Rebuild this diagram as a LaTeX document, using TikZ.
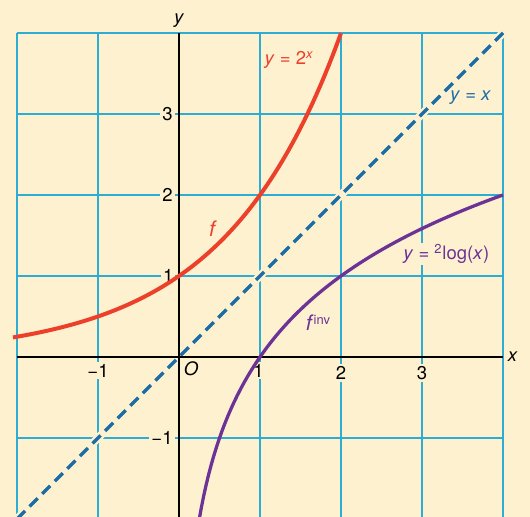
\documentclass[tikz,border=0pt]{standalone}
\usepackage{fontspec}
\setmainfont{TeX Gyre Heros}
\usepackage{tikz}
\usetikzlibrary{positioning}
\definecolor{paper}{RGB}{253,241,208}
\definecolor{gridblue}{RGB}{45,172,212}
\definecolor{expred}{RGB}{237,64,43}
\definecolor{logpurple}{RGB}{108,50,150}
\definecolor{diagblue}{RGB}{28,108,165}

\begin{document}
\begin{tikzpicture}[x=2cm, y=2cm, font=\fontsize{13}{15}\selectfont,
    ticklabel/.style={fill=paper, inner sep=1.5pt},
    curvelabel/.style={inner sep=1pt}]
    % paper
    \fill[paper] (-2.21,-1.975) rectangle (4.333,4.407);
    \useasboundingbox (-2.21,-1.975) rectangle (4.333,4.407);
    % grid
    \draw[gridblue, line width=1.3pt, step=2cm] (-2,-2) grid (4,4);

    % y = x
    \draw[paper, line width=5.5pt] (-2,-2) -- (4,4);
    \draw[diagblue, line width=2.4pt, dash pattern=on 8pt off 4.5pt] (-2,-2) -- (4,4);

    % axes
    \draw[line width=2pt] (-2,0) -- (4,0);
    \draw[line width=2pt] (0,-2) -- (0,4);
    \node[anchor=west, inner sep=1pt] (xlabel) at (4.04,0) {\textit{x}};
    \node[anchor=south, inner sep=1pt] (ylabel) at (0,4.04) {\textit{y}};
    \node[inner sep=1pt] (origin) at (0.15,-0.15) {\textit{O}};

    % tick labels
    \node[ticklabel] (xm1) at (-1,-0.17) {−1};
    \node[ticklabel] (x1) at (0.98,-0.17) {1};
    \node[ticklabel] (x2) at (2,-0.2) {2};
    \node[ticklabel] (x3) at (3,-0.2) {3};
    \node[ticklabel, anchor=east] (y1) at (-0.04,1) {1};
    \node[ticklabel, anchor=east] (y2) at (-0.05,2) {2};
    \node[ticklabel, anchor=east] (y3) at (-0.05,3) {3};
    \node[ticklabel, anchor=east] (ym1) at (-0.05,-1) {−1};

    % f and its inverse
    \draw[expred, line width=2.8pt, domain=-2.05:2, samples=80] plot (\x, {2^\x});
    \draw[logpurple, line width=2.3pt, domain=0.24:4, samples=120] plot (\x, {ln(\x)/ln(2)});

    % labels
    \node[curvelabel, text=expred] (explabel) at (1.36,3.67) {\textit{y} = 2\textsuperscript{\textit{x}}};
    \node[curvelabel, text=expred, font=\fontsize{15}{17}\selectfont] (fname) at (0.42,1.58) {\textit{f}};
    \node[curvelabel, text=diagblue] (diaglabel) at (3.6,3.2) {\textit{y} = \textit{x}};
    \node[curvelabel, fill=paper, text=logpurple] (loglabel) at (3.3,1.27) {\textit{y} = \textsuperscript{2}log(\textit{x})};
    \node[curvelabel, text=logpurple] (finvname) at (1.72,0.42) {{\fontsize{15}{17}\selectfont\textit{f}}\textsuperscript{inv}};
\end{tikzpicture}
\end{document}
